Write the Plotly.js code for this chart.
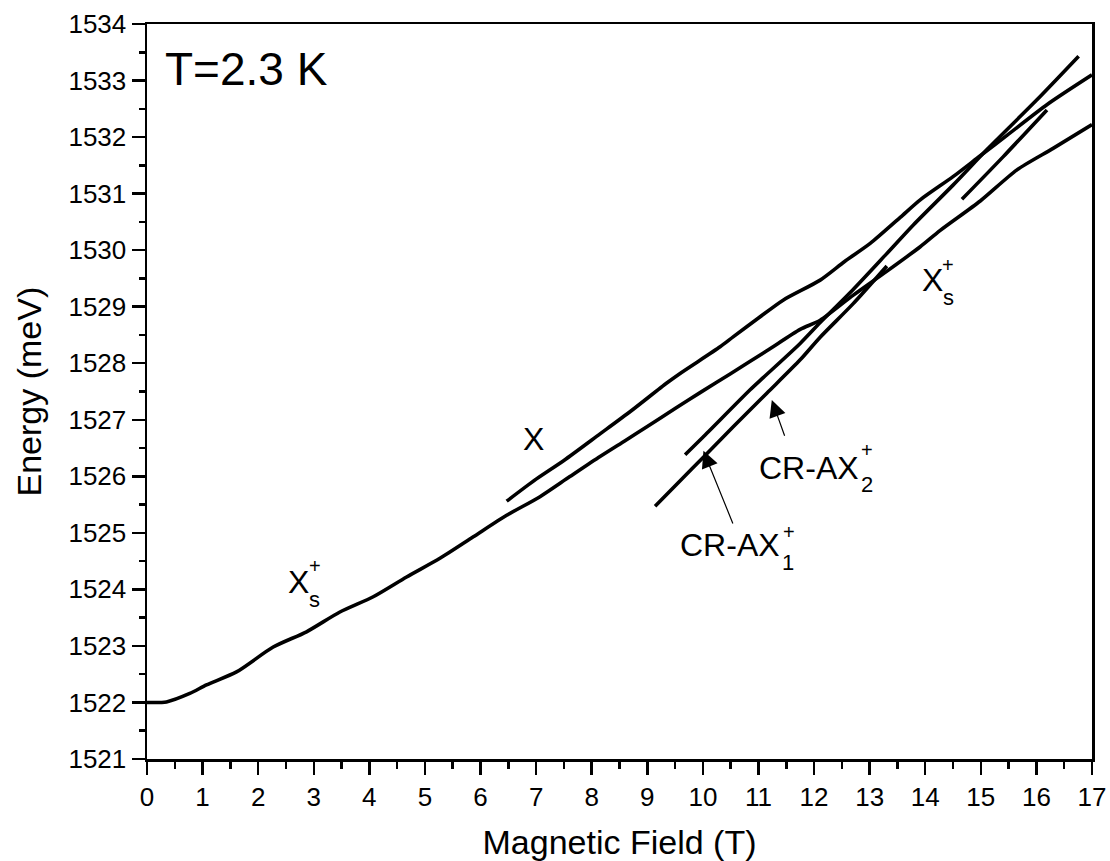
<!DOCTYPE html>
<html>
<head>
<meta charset="utf-8">
<script src="https://cdn.plot.ly/plotly-3.0.1.min.js"></script>
<style>
html,body{margin:0;padding:0;background:#fff;}
#chart{width:1110px;height:861px;}
</style>
</head>
<body>
<div id="chart"></div>
<script>
// ---- Data ----
const xsField  = [0, 0.35, 0.77, 1.07, 1.61, 2.27, 2.87, 3.47, 4.07, 4.67, 5.27, 5.87, 6.47, 7.07, 7.6, 8.15, 8.6, 9.0, 9.5, 9.95, 10.49, 11.15, 11.75, 12.11, 12.7, 13.3, 13.91, 14.27, 14.99, 15.65, 16.3, 17];
const xsEnergy = [1522.00, 1522.01, 1522.16, 1522.31, 1522.54, 1522.98, 1523.25, 1523.60, 1523.87, 1524.22, 1524.55, 1524.93, 1525.31, 1525.64, 1525.99, 1526.35, 1526.63, 1526.88, 1527.2, 1527.48, 1527.81, 1528.22, 1528.6, 1528.76, 1529.2, 1529.62, 1530.06, 1530.35, 1530.87, 1531.42, 1531.8, 1532.22];

const xField  = [6.47, 7.0, 7.5, 8.15, 8.7, 9.35, 9.59, 10.31, 10.55, 11.0, 11.45, 12.11, 12.55, 13.01, 13.55, 13.91, 14.5, 14.99, 15.47, 16.2, 17];
const xEnergy = [1525.56, 1525.95, 1526.28, 1526.75, 1527.15, 1527.65, 1527.82, 1528.29, 1528.47, 1528.8, 1529.12, 1529.47, 1529.8, 1530.12, 1530.58, 1530.89, 1531.3, 1531.67, 1532.03, 1532.58, 1533.1];

const cr1Field  = [9.14, 9.6, 10.0, 10.55, 11.15, 11.75, 12.11, 12.7, 13.31, null, 14.66, 15.4, 16.19];
const cr1Energy = [1525.47, 1525.93, 1526.33, 1526.88, 1527.47, 1528.06, 1528.46, 1529.05, 1529.72, null, 1530.90, 1531.65, 1532.48];

const cr2Field  = [9.68, 10.0, 10.85, 11.09, 11.75, 12.11, 12.7, 13.3, 13.79, 14.5, 15.11, 16.0, 16.76];
const cr2Energy = [1526.38, 1526.69, 1527.53, 1527.75, 1528.35, 1528.72, 1529.3, 1529.93, 1530.45, 1531.15, 1531.78, 1532.65, 1533.43];

const xTicks = [0,1,2,3,4,5,6,7,8,9,10,11,12,13,14,15,16,17];
const yTicks = [1521,1522,1523,1524,1525,1526,1527,1528,1529,1530,1531,1532,1533,1534];

const FONT = 'Arial, "Liberation Sans", Helvetica, sans-serif';

function lineTrace(x, y) {
  return {x: x, y: y, type: 'scatter', mode: 'lines', connectgaps: false,
          line: {color: '#000', width: 3.6, shape: 'spline', smoothing: 0.7},
          hoverinfo: 'skip', showlegend: false};
}

const traces = [
  lineTrace(xsField, xsEnergy),
  lineTrace(xField, xEnergy),
  lineTrace(cr1Field, cr1Energy),
  lineTrace(cr2Field, cr2Energy)
];

function txt(text, x, y, size, xanchor) {
  return {text: text, x: x, y: y, xref: 'x', yref: 'y', showarrow: false,
          xanchor: xanchor || 'center', yanchor: 'middle',
          font: {family: FONT, size: size, color: '#000'}};
}
function arrow(x, y, ax, ay) {
  return {text: '', x: x, y: y, ax: ax, ay: ay, xref: 'x', yref: 'y', axref: 'x', ayref: 'y',
          showarrow: true, arrowhead: 2, arrowsize: 2.8, arrowwidth: 1.2, arrowcolor: '#000', standoff: 0};
}

const annotations = [
  txt('T=2.3 K', 0.29, 1533.21, 46, 'left'),
  txt('X', 6.95, 1526.66, 32),
  txt('X', 2.72, 1524.13, 32), txt('+', 3.02, 1524.41, 20), txt('s', 3.01, 1523.82, 22),
  txt('X', 14.13, 1529.48, 32), txt('+', 14.41, 1529.73, 20), txt('s', 14.41, 1529.16, 22),
  txt('CR-AX', 11.43, 1524.78, 32, 'right'), txt('+', 11.55, 1525.02, 20), txt('1', 11.54, 1524.47, 22),
  txt('CR-AX', 12.84, 1526.15, 32, 'right'), txt('+', 12.96, 1526.46, 20), txt('2', 12.95, 1525.85, 22),
  arrow(10.01, 1526.45, 10.55, 1525.14),
  arrow(11.24, 1527.35, 11.48, 1526.69),
  {text: 'Energy (meV)', xref: 'paper', yref: 'paper', x: -0.1249, y: 0.5, textangle: -90,
   showarrow: false, xanchor: 'center', yanchor: 'middle',
   font: {family: FONT, size: 34, color: '#000'}}
];

const axisCommon = {
  showgrid: false, zeroline: false, showline: true, linecolor: '#000', linewidth: 2.5,
  mirror: true, ticks: 'outside', ticklen: 13, tickwidth: 2.5, tickcolor: '#000',
  tickfont: {family: FONT, size: 26, color: '#000'}
};

const layout = {
  width: 1110, height: 861,
  margin: {l: 147, r: 18, t: 24, b: 102},
  paper_bgcolor: '#fff', plot_bgcolor: '#fff',
  font: {family: FONT, color: '#000'},
  xaxis: Object.assign({}, axisCommon, {
    range: [0, 17], tickmode: 'array', tickvals: xTicks, ticktext: xTicks.map(String),
    minor: {dtick: 0.5, tick0: 0, ticks: 'outside', ticklen: 7, tickwidth: 2.5, tickcolor: '#000'},
    title: {text: 'Magnetic Field (T)', font: {family: FONT, size: 34, color: '#000'}, standoff: 20}
  }),
  yaxis: Object.assign({}, axisCommon, {
    range: [1521, 1534], tickmode: 'array', tickvals: yTicks, ticktext: yTicks.map(String),
    minor: {dtick: 0.5, tick0: 1521, ticks: 'outside', ticklen: 6, tickwidth: 2.5, tickcolor: '#000'}
  }),
  annotations: annotations,
  showlegend: false
};

Plotly.newPlot('chart', traces, layout, {staticPlot: true, displayModeBar: false});
</script>
</body>
</html>
